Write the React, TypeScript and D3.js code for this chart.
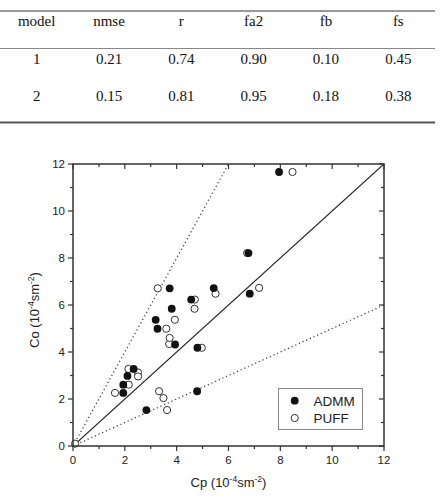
import React from 'react';
import * as d3 from 'd3';

// table
const columns = ['model', 'nmse', 'r', 'fa2', 'fb', 'fs'];
const rows = [
  ['1', '0.21', '0.74', '0.90', '0.10', '0.45'],
  ['2', '0.15', '0.81', '0.95', '0.18', '0.38'],
];

// scatter series [Cp, Co]
const admm: [number, number][] = [
  [1.94, 2.26], [1.94, 2.61], [2.10, 2.98], [2.34, 3.28], [2.83, 1.53],
  [3.19, 5.37], [3.26, 4.99], [3.73, 6.71], [3.81, 5.84], [3.94, 4.32],
  [4.56, 6.23], [4.79, 2.33], [4.80, 4.18], [5.43, 6.72], [6.77, 8.21],
  [6.82, 6.48], [7.95, 11.66],
];
const puff: [number, number][] = [
  [0.08, 0.1], [1.62, 2.26], [2.14, 3.28], [2.15, 2.61], [2.51, 3.13],
  [2.51, 2.96], [3.27, 6.71], [3.32, 2.33], [3.49, 2.04], [3.60, 4.99],
  [3.63, 1.53], [3.71, 4.34], [3.73, 4.60], [3.93, 5.37], [4.69, 5.84],
  [4.70, 6.23], [4.97, 4.18], [5.50, 6.48], [6.72, 8.21], [7.18, 6.73],
  [8.47, 11.66],
];
const majorTicks = [0, 2, 4, 6, 8, 10, 12];
const minorTicks = [1, 3, 5, 7, 9, 11];
// reference lines: Co = k * Cp
const refLines = [
  { k: 1, dash: undefined },
  { k: 2, dash: '1.2,2.8' },
  { k: 0.5, dash: '1.2,2.8' },
];

const App: React.FC = () => {
  const W = 444, H = 498;
  const left = 73, right = 384, top = 164, bottom = 446;
  const x = d3.scaleLinear().domain([0, 12]).range([left, right]);
  const y = d3.scaleLinear().domain([0, 12]).range([bottom, top]);
  const colX = d3.scalePoint<string>().domain(columns).range([36.7, 398.3]);
  const sans = 'Liberation Sans, Arial, sans-serif';
  const serif = 'Liberation Serif, Times New Roman, serif';
  const axisCol = '#333';

  const refPath = (k: number) => {
    const xe = Math.min(12, 12 / k);
    return d3.line()([[x(0), y(0)], [x(xe), y(k * xe)]]) || '';
  };

  const unit = (
    <>
      (10<tspan dy={-5} fontSize={8.5}>-4</tspan><tspan dy={5}>sm</tspan><tspan dy={-5} fontSize={8.5}>-2</tspan><tspan dy={5}>)</tspan>
    </>
  );

  return (
    <svg width={W} height={H} style={{ position: 'absolute', left: 0, top: 0, background: '#fff' }}>
      {/* table */}
      <line x1={0} x2={435} y1={11} y2={11} stroke="#777" strokeWidth={1.5} />
      <line x1={0} x2={435} y1={48.5} y2={48.5} stroke="#888" strokeWidth={1.2} />
      <line x1={0} x2={435} y1={122.5} y2={122.5} stroke="#555" strokeWidth={2} />
      {columns.map((c) => (
        <text key={c} x={colX(c)} y={26} textAnchor="middle" fontFamily={serif} fontSize={15} fill="#111">{c}</text>
      ))}
      {rows.map((r, i) => r.map((v, j) => (
        <text key={`${i}-${j}`} x={colX(columns[j])} y={63.5 + i * 37} textAnchor="middle"
          fontFamily={serif} fontSize={15} fill="#111">{v}</text>
      )))}

      {/* reference lines */}
      <defs>
        <clipPath id="plot"><rect x={left} y={top} width={right - left} height={bottom - top} /></clipPath>
      </defs>
      <g clipPath="url(#plot)">
        {refLines.map((l) => (
          <path key={l.k} d={refPath(l.k)} fill="none" stroke={l.dash ? '#444' : '#222'}
            strokeWidth={l.dash ? 1.3 : 1.2} strokeDasharray={l.dash} />
        ))}
      </g>

      {/* points */}
      {puff.map((d, i) => (
        <circle key={`p${i}`} cx={x(d[0])} cy={y(d[1])} r={3.6} fill="#fff" stroke="#333" strokeWidth={1} />
      ))}
      {admm.map((d, i) => (
        <circle key={`a${i}`} cx={x(d[0])} cy={y(d[1])} r={3.9} fill="#111" />
      ))}

      {/* frame */}
      <rect x={left} y={top} width={right - left} height={bottom - top} fill="none" stroke={axisCol} strokeWidth={1.5} />
      {majorTicks.map((t) => (
        <g key={`M${t}`} stroke={axisCol} strokeWidth={1.2}>
          <line x1={x(t)} x2={x(t)} y1={bottom} y2={bottom + 5} />
          <line x1={x(t)} x2={x(t)} y1={top} y2={top + 5} />
          <line x1={left - 5} x2={left} y1={y(t)} y2={y(t)} />
          <line x1={right - 5} x2={right} y1={y(t)} y2={y(t)} />
        </g>
      ))}
      {minorTicks.map((t) => (
        <g key={`m${t}`} stroke={axisCol} strokeWidth={1.2}>
          <line x1={x(t)} x2={x(t)} y1={bottom} y2={bottom + 3} />
          <line x1={x(t)} x2={x(t)} y1={top} y2={top + 3} />
          <line x1={left - 3} x2={left} y1={y(t)} y2={y(t)} />
          <line x1={right - 3} x2={right} y1={y(t)} y2={y(t)} />
        </g>
      ))}
      {majorTicks.map((t) => (
        <g key={`l${t}`} fontFamily={sans} fontSize={11.5} fill="#222">
          <text x={x(t)} y={bottom + 18} textAnchor="middle">{t}</text>
          <text x={left - 8} y={y(t) + 4} textAnchor="end">{t}</text>
        </g>
      ))}

      {/* axis titles */}
      <text x={(left + right) / 2} y={487} textAnchor="middle" fontFamily={sans} fontSize={13} fill="#222">
        Cp {unit}
      </text>
      <text transform={`translate(39,310) rotate(-90)`} textAnchor="middle" fontFamily={sans} fontSize={13} fill="#222">
        Co {unit}
      </text>

      {/* legend */}
      <rect x={278.5} y={388.5} width={84} height={41} fill="#fff" stroke="#888" strokeWidth={1} />
      <circle cx={294.7} cy={400.7} r={3.9} fill="#111" />
      <circle cx={294.7} cy={418} r={3.6} fill="#fff" stroke="#333" strokeWidth={1} />
      <text x={313.5} y={405.5} fontFamily={sans} fontSize={13.5} fill="#222">ADMM</text>
      <text x={313.5} y={422.5} fontFamily={sans} fontSize={13.5} fill="#222">PUFF</text>
    </svg>
  );
};

export default App;
